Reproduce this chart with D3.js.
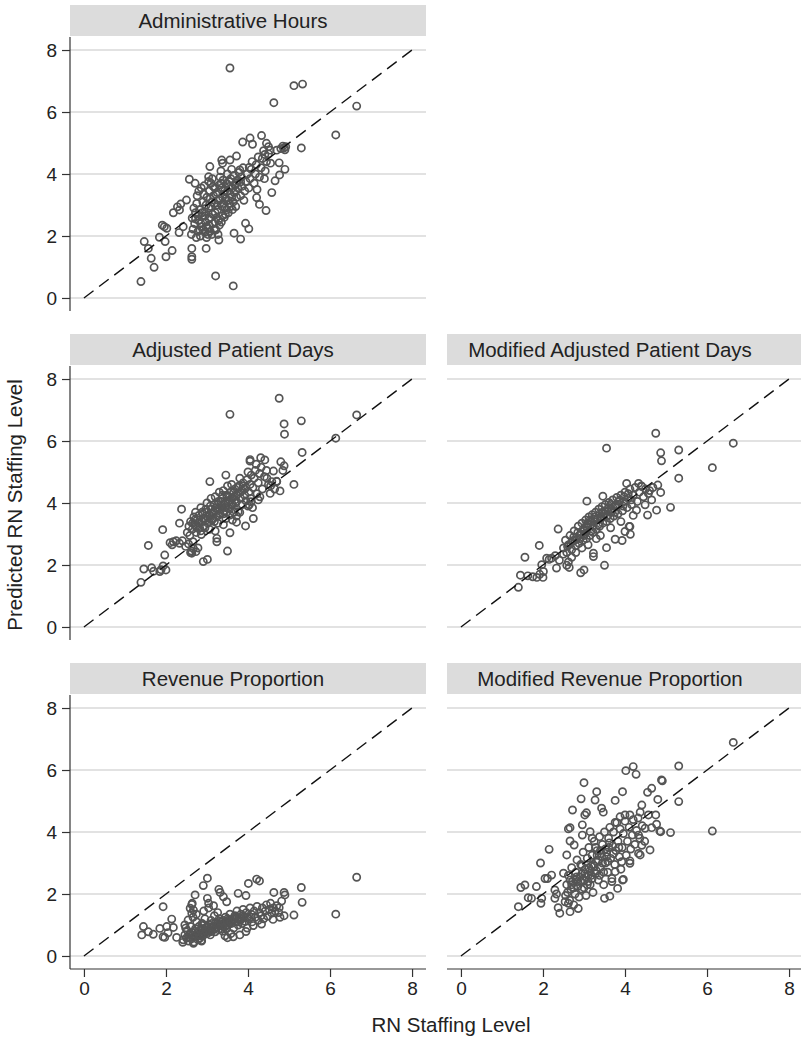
<!DOCTYPE html>
<html>
<head>
<meta charset="utf-8">
<script src="https://cdn.jsdelivr.net/npm/d3@7"></script>
<style>
  body { margin: 0; background: #fff; }
  svg { display: block; font-family: "Liberation Sans", Arial, sans-serif; }
</style>
</head>
<body>
<div id="chart"></div>
<script>
var xTicks = [0, 2, 4, 6, 8];
var yTicks = [0, 2, 4, 6, 8];
var titles = ["Administrative Hours", "Adjusted Patient Days", "Modified Adjusted Patient Days",
              "Revenue Proportion", "Modified Revenue Proportion"];

var adminHours = [
  [3.56,7.42],[5.12,6.85],[5.33,6.90],[4.63,6.30],[6.65,6.19],[6.14,5.26],[5.30,4.84],
  [4.33,5.24],[3.87,5.03],[4.05,5.16],[4.11,4.96],
  [4.88,4.84],[4.85,4.90],[4.92,4.88],[4.80,4.82],[4.90,4.78],
  [4.90,4.15],[4.77,3.97],[4.66,3.78],[4.58,3.40],[4.76,4.36],
  [4.21,3.24],[4.28,3.02],[4.44,2.82],
  [3.94,2.41],[4.02,2.23],[3.66,2.09],[3.82,1.90],[3.29,1.87],[2.98,1.60],
  [2.63,1.60],[2.63,1.33],[2.63,1.25],[3.21,0.71],[3.64,0.39],
  [1.39,0.53],[1.71,0.99],[1.64,1.28],[1.47,1.82],[1.57,1.60],[2.00,1.33],[2.15,1.53],
  [1.84,1.96],[1.98,1.82],[1.91,2.35],[1.96,2.30],[2.02,2.25],
  [2.18,2.75],[2.28,2.94],[2.36,3.03],[2.50,3.16],[2.33,2.84],
  [2.57,3.83],[2.71,3.70],[2.32,2.11],[2.42,2.30],
  [3.07,4.24],[3.36,4.45],[3.56,4.45],[3.72,4.58],[3.38,4.35],[3.04,3.91],[3.04,3.76],
  [3.80,4.13],[4.03,4.21],[4.41,4.63],[4.54,4.77],[4.45,4.99],[4.50,4.88],[4.70,4.77],
  // dense cluster
  [2.62,2.05],[2.66,2.22],[2.70,2.40],[2.64,2.58],[2.72,2.75],[2.68,2.90],[2.75,3.05],[2.78,2.15],
  [2.74,1.95],[2.80,2.50],[2.76,3.30],[2.80,3.45],
  [2.84,2.00],[2.86,2.30],[2.88,2.62],[2.82,2.85],[2.90,3.10],[2.92,3.35],[2.86,3.55],[2.95,2.12],
  [2.97,2.45],[2.94,2.78],[2.98,3.00],[2.93,3.62],[2.99,1.95],
  [3.02,2.25],[3.05,2.55],[3.04,2.90],[3.08,3.20],[3.06,3.45],[3.10,3.70],[3.12,2.05],[3.15,2.40],
  [3.14,2.70],[3.18,3.05],[3.16,3.30],[3.19,3.55],[3.13,3.85],
  [3.22,2.20],[3.24,2.60],[3.26,2.85],[3.28,3.15],[3.25,3.40],[3.30,3.65],[3.32,3.90],[3.35,2.45],
  [3.37,2.95],[3.38,3.25],[3.36,3.55],[3.39,3.80],[3.34,4.10],
  [3.42,2.60],[3.44,2.90],[3.46,3.20],[3.43,3.45],[3.48,3.70],[3.50,4.00],[3.52,2.75],[3.55,3.05],
  [3.57,3.35],[3.54,3.60],[3.58,3.85],[3.60,4.15],
  [3.62,2.85],[3.64,3.10],[3.66,3.40],[3.68,3.65],[3.65,3.95],[3.72,3.25],[3.75,3.55],[3.74,3.80],
  [3.78,4.05],[3.70,2.95],
  [3.82,3.30],[3.85,3.60],[3.84,3.90],[3.88,4.20],[3.92,3.45],[3.95,3.75],[3.98,4.00],[3.90,3.15],
  [4.02,3.55],[4.05,3.85],[4.08,4.15],[4.10,4.40],[4.15,3.70],[4.18,4.00],[4.20,4.30],[4.25,4.55],
  [4.28,3.90],[4.22,3.50],
  [4.32,4.20],[4.35,4.50],[4.38,4.75],[4.42,4.10],[4.45,4.40],[4.50,4.65],[4.55,4.35],[4.40,3.85],
  [2.85,2.40],[2.95,2.65],[3.05,2.35],[3.10,2.95],[3.20,2.75],[3.30,2.35],[3.40,3.05],[3.50,3.45],
  [3.60,3.25],[3.45,2.70],[3.25,3.00],[3.00,3.25],[2.90,2.20],[3.15,3.60],[3.55,3.75],[3.70,3.45],
  [3.35,3.70],[2.78,2.65],[3.08,2.15],[3.20,2.45],
  [2.88,2.75],[2.98,2.30],[3.08,2.60],[3.18,2.20],[3.28,2.50],[3.12,3.10],[3.22,3.35],[3.32,3.20],
  [3.42,3.35],[3.52,3.15],[3.62,3.55],[3.72,3.70],[3.82,3.75],[2.72,2.55],[2.82,2.20],[3.48,2.85],
  [3.58,2.95],[3.38,2.65],[3.02,2.05],[3.27,2.05]
];

var adjPatientDays = [
  [4.76,7.38],[3.56,6.86],[4.88,6.55],[5.30,6.65],[4.89,6.22],[6.65,6.84],[6.14,6.09],[5.32,5.63],
  [5.12,4.60],[4.78,4.39],
  [4.80,5.33],[4.88,5.20],[4.31,5.46],[4.41,5.39],[4.05,5.35],[4.05,5.40],
  [4.62,5.03],[4.70,4.69],[4.54,4.31],[4.29,4.20],[4.58,4.69],[4.46,4.80],
  [3.95,4.07],[4.07,4.04],[4.03,3.94],[4.11,3.85],[3.76,3.72],[3.72,3.58],
  [4.13,3.50],[3.94,3.26],[3.72,3.38],[3.56,3.61],[3.56,3.04],[3.50,2.45],
  [3.24,2.86],[3.24,2.75],[2.91,2.11],[3.01,2.18],
  [3.07,4.69],[3.46,4.90],[2.38,3.80],[2.33,3.35],[1.92,3.14],[1.57,2.63],[1.39,1.44],
  [1.46,1.87],[1.65,1.91],[1.85,1.79],[2.00,1.84],[1.93,1.97],[1.97,2.32],[1.70,1.80],[1.88,1.85],
  [2.10,2.72],[2.18,2.75],[2.25,2.78],[2.33,2.70],[2.40,2.78],[2.48,2.60],[2.55,2.68],[2.62,2.45],
  [2.60,2.40],[2.15,2.65],[2.78,2.55],[2.66,2.75],[2.73,2.43],[2.63,2.38],[2.67,2.53],
  // dense cluster
  [2.52,3.05],[2.56,3.25],[2.60,3.40],[2.64,3.15],[2.68,3.55],[2.58,2.95],[2.70,3.30],
  [2.72,3.70],[2.74,3.05],[2.76,3.45],[2.80,3.60],[2.82,3.20],[2.85,3.85],[2.88,3.40],[2.86,2.98],
  [2.90,3.65],
  [2.92,3.25],[2.95,3.50],[2.97,3.80],[3.00,4.00],[3.02,3.35],[3.05,3.62],[3.08,3.90],[3.06,3.15],
  [3.10,4.15],
  [3.12,3.45],[3.15,3.70],[3.18,3.95],[3.20,4.20],[3.22,3.55],[3.25,3.80],[3.28,4.05],[3.26,3.35],
  [3.30,4.35],
  [3.32,3.65],[3.35,3.90],[3.38,4.15],[3.40,4.40],[3.42,3.75],[3.45,4.00],[3.48,4.25],[3.46,3.50],
  [3.50,4.55],
  [3.52,3.85],[3.55,4.10],[3.58,4.35],[3.60,4.60],[3.62,3.95],[3.65,4.20],[3.68,4.45],[3.66,3.70],
  [3.72,4.05],[3.75,4.30],[3.78,4.55],[3.80,4.80],[3.82,4.15],[3.85,4.40],[3.88,4.65],[3.86,3.95],
  [3.92,4.25],[3.95,4.50],[3.98,4.75],[4.00,5.00],[4.02,4.35],[4.05,4.60],[4.08,4.90],[4.06,4.15],
  [4.12,4.50],[4.15,4.80],[4.18,5.05],[4.20,5.25],[4.25,4.65],[4.28,4.95],[4.32,5.15],[4.35,4.45],
  [4.40,4.85],[4.45,5.05],[4.50,4.60],[4.22,4.30],
  [3.62,3.45],[3.80,3.70],[4.00,3.90],[3.40,3.30],[3.20,3.10],[4.25,4.10],[4.55,4.55],[4.65,4.45],
  [4.70,4.70],[4.85,5.05],
  [2.70,3.45],[2.80,3.35],[2.90,3.50],[3.00,3.70],[3.10,3.80],[3.15,3.50],[3.25,3.95],[3.35,4.05],
  [3.40,3.65],[3.50,4.20],[3.55,3.80],[3.65,4.35],[3.70,4.00],[3.75,4.50],[2.95,3.20],[3.05,3.40],
  [3.20,3.75],[3.45,3.85],[2.65,3.35],[2.85,3.10],
  [2.75,3.20],[2.88,3.70],[3.02,3.55],[3.12,3.65],[3.22,3.85],[3.32,3.80],[3.42,3.95],[3.52,4.05],
  [3.62,4.15],[3.72,4.25],[3.82,4.35],[3.92,4.45],[3.18,3.40],[3.28,3.60],[3.48,3.70],[3.58,3.95],
  [2.98,3.45],[3.38,4.25],[3.68,4.10],[3.88,4.55]
];

var modAdjPatientDays = [
  [4.75,6.25],[3.55,5.77],[4.87,5.62],[4.89,5.36],[5.31,5.71],[6.64,5.93],[6.13,5.14],[5.31,4.80],
  [5.11,3.86],[4.77,3.77],[4.55,3.61],[4.80,4.58],[4.87,4.34],[4.04,4.63],[4.33,4.63],[3.07,4.06],
  [3.46,4.22],[4.41,4.53],[4.57,4.31],[4.65,4.10],[4.49,3.94],[4.28,3.77],[4.12,3.24],[4.00,3.08],
  [2.37,3.16],[1.91,2.63],[1.56,2.25],[1.40,1.28],
  [1.45,1.67],[1.63,1.65],[1.85,1.60],[2.00,1.60],[2.01,1.79],[1.97,2.01],[1.75,1.62],[1.92,1.70],
  [2.09,2.22],[2.21,2.22],[2.33,1.90],[2.58,1.99],[2.64,1.92],[2.92,1.75],[3.00,1.84],[3.50,1.99],
  [3.23,2.38],[3.23,2.27],[3.55,2.56],[3.76,2.83],[3.93,2.79],[4.13,2.99],[4.10,3.24],
  [2.15,2.18],[2.30,2.30],[2.40,2.15],[2.50,2.35],[2.62,2.10],[2.70,2.25],[2.80,2.40],
  // dense cluster
  [2.50,2.55],[2.55,2.80],[2.58,2.40],[2.62,2.65],[2.66,2.95],[2.70,2.50],[2.72,2.78],[2.76,3.10],
  [2.80,2.62],[2.82,2.90],[2.86,3.25],[2.88,2.70],[2.92,3.00],[2.95,3.35],[2.98,2.80],[3.00,3.10],
  [3.04,3.45],[3.06,2.85],[3.08,3.20],[3.12,3.55],[3.14,2.95],[3.16,3.30],[3.20,3.62],[3.22,3.05],
  [3.25,3.40],[3.28,3.70],[3.30,3.15],[3.33,3.48],[3.36,3.80],[3.38,3.25],[3.41,3.56],[3.44,3.88],
  [3.46,3.35],[3.49,3.65],[3.52,3.95],[3.55,3.40],[3.58,3.72],[3.61,4.02],[3.64,3.50],[3.67,3.80],
  [3.70,4.10],[3.73,3.58],[3.76,3.88],[3.80,4.18],[3.83,3.65],[3.86,3.95],[3.90,4.25],[3.94,3.75],
  [3.97,4.05],[4.00,4.35],[4.05,3.85],[4.08,4.15],[4.12,4.45],[4.16,3.95],[4.20,4.25],[4.25,4.50],
  [4.30,4.05],[4.35,4.35],[4.40,4.55],[4.45,4.20],[4.50,4.45],[4.60,4.40],[4.68,4.50],
  [3.10,2.65],[3.40,2.95],[3.65,3.20],[3.90,3.40],[4.20,3.60],[2.95,2.55],[3.30,2.85],
  [2.90,2.85],[3.00,2.95],[3.10,3.30],[3.18,3.10],[3.26,3.55],[3.35,3.30],[3.45,3.70],[3.55,3.55],
  [3.65,3.95],[3.75,3.70],[3.85,4.05],[3.95,3.90],[2.75,2.90],[2.85,3.05],[3.05,3.25],[3.15,3.45],
  [3.40,3.50],[3.60,3.85],
  [2.68,2.70],[2.78,2.80],[2.88,2.95],[2.98,3.15],[3.08,3.35],[3.18,3.40],[3.28,3.45],[3.38,3.65],
  [3.48,3.55],[3.58,3.60],[3.68,3.75],[3.78,3.95],[3.88,4.10],[3.98,4.20],[4.08,4.30],[3.22,3.25],
  [3.52,3.75],[3.02,3.00],[2.60,2.60],[4.15,4.10]
];

var revProportion = [
  [6.65,2.54],[6.14,1.35],[5.30,2.21],[5.32,1.73],[5.12,1.32],[4.88,2.05],[4.90,1.97],[4.88,1.30],
  [4.82,1.77],[4.63,2.05],[4.76,1.56],[4.61,1.18],[4.21,2.48],[4.28,2.42],[4.01,2.34],[3.76,2.02],
  [3.95,1.95],[3.01,2.51],[2.91,2.27],[2.71,1.97],[3.01,1.86],[3.04,1.70],[2.64,1.70],[3.29,2.15],
  [3.32,2.05],[3.40,1.91],[3.48,1.75],[1.93,1.59],[2.14,1.19],[1.45,0.95],[1.41,0.68],[1.57,0.78],
  [1.69,0.70],[1.85,0.89],[1.93,0.62],[2.02,0.95],[2.18,0.92],[2.63,1.66],[2.67,1.48],[1.97,0.60],
  [2.05,0.75],[2.26,0.60],[2.41,0.44],[2.46,1.00],[2.54,1.16],[2.63,1.38],[2.59,1.54],
  [2.67,0.41],[2.87,0.48],[3.50,0.59],[3.64,0.62],[3.80,0.68],[3.95,0.79],[4.13,0.98],[4.33,1.03],
  // dense cluster
  [2.42,0.52],[2.46,0.68],[2.50,0.58],[2.52,0.82],[2.55,0.48],[2.58,0.70],[2.60,0.95],[2.48,0.90],
  [2.62,0.55],[2.65,0.75],[2.68,0.45],[2.70,0.62],[2.72,0.88],[2.75,1.10],[2.78,0.52],[2.66,1.25],
  [2.74,1.35],
  [2.80,0.70],[2.83,0.58],[2.85,0.85],[2.88,1.05],[2.90,0.65],[2.93,0.78],[2.95,1.20],[2.98,0.92],
  [2.86,0.50],[2.92,1.45],
  [3.00,0.72],[3.03,0.85],[3.05,1.00],[3.08,0.68],[3.10,1.15],[3.12,0.80],[3.15,0.95],[3.18,1.30],
  [3.04,1.55],[3.16,1.62],
  [3.20,0.78],[3.22,0.92],[3.25,1.05],[3.28,0.85],[3.30,1.20],[3.33,0.98],[3.36,1.10],[3.38,0.80],
  [3.26,1.40],
  [3.40,0.95],[3.43,1.08],[3.45,1.25],[3.48,0.88],[3.50,1.00],[3.53,1.15],[3.56,1.35],[3.58,0.72],
  [3.44,0.65],
  [3.60,1.05],[3.63,1.20],[3.65,0.90],[3.68,1.30],[3.70,1.10],[3.73,1.45],[3.76,1.00],[3.78,1.22],
  [3.80,1.15],[3.83,1.35],[3.86,1.05],[3.88,1.50],[3.90,1.25],[3.93,1.12],[3.96,1.40],[3.98,0.90],
  [4.02,1.20],[4.05,1.55],[4.08,1.35],[4.10,1.10],[4.15,1.45],[4.18,1.25],[4.22,1.60],[4.25,1.15],
  [4.28,1.40],
  [4.32,1.30],[4.35,1.55],[4.38,1.20],[4.42,1.45],[4.45,1.65],[4.48,1.28],[4.52,1.50],[4.55,1.70],
  [4.58,1.38],
  [4.62,1.55],[4.66,1.45],[4.70,1.62],[4.75,1.40],[4.78,1.25],
  [2.70,0.80],[2.80,0.95],[2.90,0.88],[3.00,0.95],[3.10,0.90],[3.20,1.05],[3.30,1.02],[3.40,1.15],
  [3.50,1.20],[3.60,1.15],[2.75,0.68],[2.95,0.75],[3.05,0.82],[3.25,0.92],[3.35,0.88],[3.55,1.05],
  [3.70,1.25],[3.85,1.20],[2.60,0.70],[2.85,0.65],
  [2.65,0.60],[2.78,0.78],[2.88,0.72],[2.98,0.82],[3.08,0.78],[3.18,0.88],[3.28,0.98],[3.38,1.00],
  [3.48,1.10],[3.58,1.10],[3.68,1.18],[3.78,1.10],[3.88,1.30],[3.98,1.25],[4.08,1.25],[2.92,1.00],
  [3.12,1.05],[3.32,1.12],[2.55,0.60],[3.45,0.95]
];

var modRevProportion = [
  [6.64,6.89],[5.31,6.13],[4.02,5.98],[4.20,6.11],[4.27,5.86],[6.13,4.03],[5.31,4.98],[5.11,3.98],
  [4.87,4.01],[4.89,5.68],[4.91,5.65],[4.65,5.41],[4.55,5.28],[4.80,5.05],
  [3.00,5.59],[3.31,5.30],[2.93,5.07],[3.27,5.03],[3.43,4.77],[3.47,4.64],[3.94,5.30],[3.76,5.02],
  [2.72,4.71],[3.02,4.55],[3.06,4.62],
  [2.15,3.44],[1.94,3.00],[1.46,2.21],[1.56,2.29],[1.40,1.59],
  [1.64,1.88],[1.72,1.86],[1.84,2.24],[1.97,1.86],[2.05,2.50],[2.11,2.50],[2.21,2.61],[1.95,1.70],
  [2.29,2.13],[2.33,2.00],[2.54,1.75],[2.50,2.67],[2.58,3.26],[2.66,3.71],[2.62,4.10],[2.76,3.58],
  [2.96,4.23],[2.96,3.90],[3.15,4.01],[3.20,3.80],[2.66,4.14],
  [3.76,4.31],[3.88,4.49],[4.00,4.55],[4.12,4.55],[4.37,4.64],[4.41,4.87],[4.57,4.55],[4.75,4.55],
  [4.77,4.25],[4.85,4.03],[4.65,4.14],[4.49,4.12],[4.33,3.90],[4.41,3.57],[4.33,3.31],[4.61,3.42],
  [4.12,3.07],[3.92,3.04],[3.76,2.72],[3.94,2.45],[3.68,2.40],
  [2.41,1.38],[2.66,1.43],[2.86,1.53],[2.37,1.56],[2.62,1.70],[2.29,1.86],[3.50,1.86],[3.63,1.93],
  [3.82,2.18],[3.96,2.47],[4.12,2.99],[4.37,3.26],
  // dense cluster
  [2.55,1.95],[2.58,2.30],[2.62,2.60],[2.65,1.80],[2.68,2.15],[2.70,2.85],[2.60,2.05],
  [2.72,2.40],[2.75,1.65],[2.78,2.00],[2.80,2.70],[2.83,3.10],[2.85,2.25],[2.88,1.90],[2.90,2.55],
  [2.92,2.95],[2.95,2.15],[2.98,3.35],[3.00,2.45],[3.03,2.80],[3.05,1.95],[3.08,3.15],[3.10,2.60],
  [3.12,3.50],[3.15,2.30],[3.18,2.90],[3.20,3.25],[3.22,2.05],[3.25,3.70],[3.28,2.65],[3.30,3.05],
  [3.32,3.40],[3.35,2.45],[3.38,3.85],[3.40,2.85],[3.43,3.20],[3.45,3.60],[3.48,2.30],[3.50,4.00],
  [3.52,3.00],[3.55,3.35],[3.58,2.70],[3.60,3.80],[3.63,4.15],[3.65,3.15],[3.68,2.50],[3.70,3.55],
  [3.72,4.00],[3.75,2.95],[3.78,3.40],[3.80,4.30],[3.83,3.70],[3.86,3.20],[3.88,4.10],[3.90,2.80],
  [3.93,3.50],[3.96,3.95],[4.00,4.35],[4.03,3.25],[4.06,3.70],[4.10,4.15],[4.14,3.45],[4.18,3.90],
  [4.20,4.40],[4.24,3.60],[4.28,4.05],[4.32,4.45],[4.36,3.80],[4.42,4.20],[4.48,3.70],
  [2.85,2.40],[2.95,2.65],[3.05,2.55],[3.15,2.75],[3.20,2.50],[3.25,2.90],[3.35,3.10],[3.45,3.00],
  [3.55,3.20],[3.00,2.20],[3.10,2.40],[2.75,2.20],[2.80,2.45],[3.40,3.40],[3.60,3.50],[3.30,2.75],
  [2.70,2.30],[2.82,2.55],[2.92,2.40],[3.02,2.65],[3.12,2.85],[3.22,2.95],[3.32,3.25],[3.42,3.30],
  [3.52,3.45],[3.62,3.65],[3.72,3.30],[3.08,2.30],[3.18,2.60],[2.95,2.90],[3.38,2.60],[3.48,2.70],
  [2.66,2.45],[3.28,3.50],[3.58,3.05],[3.85,3.50]
];

var panels = [
  {title: titles[0], data: adminHours,        col: 0, row: 0},
  {title: titles[1], data: adjPatientDays,    col: 0, row: 1},
  {title: titles[2], data: modAdjPatientDays, col: 1, row: 1},
  {title: titles[3], data: revProportion,     col: 0, row: 2},
  {title: titles[4], data: modRevProportion,  col: 1, row: 2}
];

var W = 801, H = 1038;
var colX = [70, 447], rowY = [5, 334, 663];
var headH = 31, plotW = 356, plotH = 274;

var x = d3.scaleLinear().domain([-0.34, 8.34]).range([0, plotW]);
var y = d3.scaleLinear().domain([-0.42, 8.42]).range([plotH, 0]);

var svg = d3.select("#chart").append("svg")
    .attr("width", W)
    .attr("height", H);

panels.forEach(function(p) {
  var g = svg.append("g")
      .attr("transform", "translate(" + colX[p.col] + "," + rowY[p.row] + ")");

  g.append("rect")
      .attr("width", plotW).attr("height", headH)
      .attr("fill", "#dcdcdc");
  g.append("text")
      .attr("x", 163).attr("y", headH / 2 + 7)
      .attr("text-anchor", "middle")
      .attr("font-size", 20.5).attr("fill", "#222")
      .text(p.title);

  var plot = g.append("g").attr("transform", "translate(0," + (headH + 1) + ")");

  plot.selectAll(".grid").data(yTicks).enter().append("line")
      .attr("x1", 0).attr("x2", plotW)
      .attr("y1", d => y(d)).attr("y2", d => y(d))
      .attr("stroke", "#d9d9d9").attr("stroke-width", 1.5);

  plot.selectAll("circle").data(p.data).enter().append("circle")
      .attr("cx", d => x(d[0]))
      .attr("cy", d => y(d[1]))
      .attr("r", 3.6)
      .attr("fill", "none")
      .attr("stroke", "#555")
      .attr("stroke-width", 1.7);

  plot.append("line")
      .attr("x1", x(0)).attr("y1", y(0))
      .attr("x2", x(8)).attr("y2", y(8))
      .attr("stroke", "#111").attr("stroke-width", 1.4)
      .attr("stroke-dasharray", "12,7");

  if (p.col == 0) {
    var ya = plot.append("g").call(d3.axisLeft(y).tickValues(yTicks).tickSize(8).tickPadding(5));
    ya.select(".domain").attr("d", "M0,0V" + plotH).attr("stroke", "#333").attr("stroke-width", 1.2);
    ya.selectAll(".tick line").attr("stroke", "#333").attr("stroke-width", 1.2);
    ya.selectAll(".tick text").attr("font-size", 19).attr("fill", "#222")
      .attr("font-family", "Liberation Sans, Arial, sans-serif");
  }
  if (p.row == 2) {
    var xa = plot.append("g").attr("transform", "translate(0," + plotH + ")")
        .call(d3.axisBottom(x).tickValues(xTicks).tickSize(8).tickPadding(5));
    xa.select(".domain").attr("d", "M0,0H" + plotW).attr("stroke", "#333").attr("stroke-width", 1.2);
    xa.selectAll(".tick line").attr("stroke", "#333").attr("stroke-width", 1.2);
    xa.selectAll(".tick text").attr("font-size", 19).attr("fill", "#222")
      .attr("font-family", "Liberation Sans, Arial, sans-serif");
  }
});

svg.append("text")
    .attr("transform", "translate(22,505) rotate(-90)")
    .attr("text-anchor", "middle")
    .attr("font-size", 20.5).attr("fill", "#222")
    .text("Predicted RN Staffing Level");

svg.append("text")
    .attr("x", 451).attr("y", 1032)
    .attr("text-anchor", "middle")
    .attr("font-size", 20.5).attr("fill", "#222")
    .text("RN Staffing Level");
</script>
</body>
</html>
